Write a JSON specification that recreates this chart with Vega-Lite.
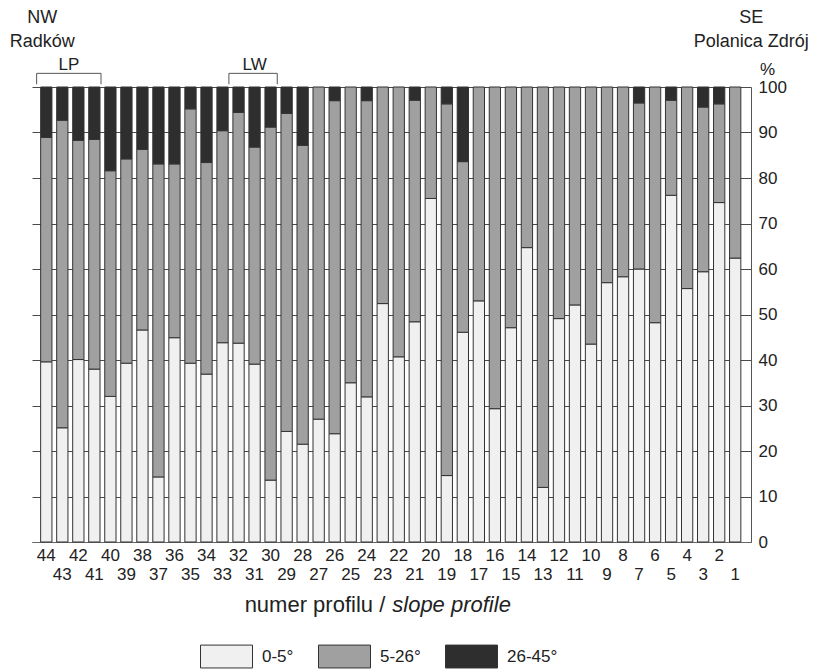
{
  "$schema": "https://vega.github.io/schema/vega-lite/v6.json",
  "width": 719,
  "height": 455,
  "autosize": {"type": "none"},
  "padding": {"left": 32, "top": 87, "right": 68, "bottom": 130},
  "background": "white",
  "config": {
    "font": "Liberation Sans",
    "view": {"stroke": null},
    "text": {"color": "#222"}
  },
  "datasets": {
    "profiles": [
      {"profil": 44, "klasa": "0-5°", "udzial": 39.6}, {"profil": 44, "klasa": "5-26°", "udzial": 49.3}, {"profil": 44, "klasa": "26-45°", "udzial": 11.1},
      {"profil": 43, "klasa": "0-5°", "udzial": 25.1}, {"profil": 43, "klasa": "5-26°", "udzial": 67.6}, {"profil": 43, "klasa": "26-45°", "udzial": 7.3},
      {"profil": 42, "klasa": "0-5°", "udzial": 40.1}, {"profil": 42, "klasa": "5-26°", "udzial": 48.2}, {"profil": 42, "klasa": "26-45°", "udzial": 11.7},
      {"profil": 41, "klasa": "0-5°", "udzial": 38.0}, {"profil": 41, "klasa": "5-26°", "udzial": 50.5}, {"profil": 41, "klasa": "26-45°", "udzial": 11.5},
      {"profil": 40, "klasa": "0-5°", "udzial": 32.0}, {"profil": 40, "klasa": "5-26°", "udzial": 49.6}, {"profil": 40, "klasa": "26-45°", "udzial": 18.4},
      {"profil": 39, "klasa": "0-5°", "udzial": 39.3}, {"profil": 39, "klasa": "5-26°", "udzial": 44.9}, {"profil": 39, "klasa": "26-45°", "udzial": 15.8},
      {"profil": 38, "klasa": "0-5°", "udzial": 46.6}, {"profil": 38, "klasa": "5-26°", "udzial": 39.7}, {"profil": 38, "klasa": "26-45°", "udzial": 13.7},
      {"profil": 37, "klasa": "0-5°", "udzial": 14.3}, {"profil": 37, "klasa": "5-26°", "udzial": 68.8}, {"profil": 37, "klasa": "26-45°", "udzial": 16.9},
      {"profil": 36, "klasa": "0-5°", "udzial": 44.9}, {"profil": 36, "klasa": "5-26°", "udzial": 38.2}, {"profil": 36, "klasa": "26-45°", "udzial": 16.9},
      {"profil": 35, "klasa": "0-5°", "udzial": 39.3}, {"profil": 35, "klasa": "5-26°", "udzial": 55.9}, {"profil": 35, "klasa": "26-45°", "udzial": 4.8},
      {"profil": 34, "klasa": "0-5°", "udzial": 36.9}, {"profil": 34, "klasa": "5-26°", "udzial": 46.5}, {"profil": 34, "klasa": "26-45°", "udzial": 16.6},
      {"profil": 33, "klasa": "0-5°", "udzial": 43.8}, {"profil": 33, "klasa": "5-26°", "udzial": 46.6}, {"profil": 33, "klasa": "26-45°", "udzial": 9.6},
      {"profil": 32, "klasa": "0-5°", "udzial": 43.7}, {"profil": 32, "klasa": "5-26°", "udzial": 50.7}, {"profil": 32, "klasa": "26-45°", "udzial": 5.6},
      {"profil": 31, "klasa": "0-5°", "udzial": 39.1}, {"profil": 31, "klasa": "5-26°", "udzial": 47.7}, {"profil": 31, "klasa": "26-45°", "udzial": 13.2},
      {"profil": 30, "klasa": "0-5°", "udzial": 13.6}, {"profil": 30, "klasa": "5-26°", "udzial": 77.6}, {"profil": 30, "klasa": "26-45°", "udzial": 8.8},
      {"profil": 29, "klasa": "0-5°", "udzial": 24.3}, {"profil": 29, "klasa": "5-26°", "udzial": 69.9}, {"profil": 29, "klasa": "26-45°", "udzial": 5.8},
      {"profil": 28, "klasa": "0-5°", "udzial": 21.5}, {"profil": 28, "klasa": "5-26°", "udzial": 65.7}, {"profil": 28, "klasa": "26-45°", "udzial": 12.8},
      {"profil": 27, "klasa": "0-5°", "udzial": 27.0}, {"profil": 27, "klasa": "5-26°", "udzial": 73.0},
      {"profil": 26, "klasa": "0-5°", "udzial": 23.8}, {"profil": 26, "klasa": "5-26°", "udzial": 73.2}, {"profil": 26, "klasa": "26-45°", "udzial": 3.0},
      {"profil": 25, "klasa": "0-5°", "udzial": 35.0}, {"profil": 25, "klasa": "5-26°", "udzial": 65.0},
      {"profil": 24, "klasa": "0-5°", "udzial": 31.9}, {"profil": 24, "klasa": "5-26°", "udzial": 65.1}, {"profil": 24, "klasa": "26-45°", "udzial": 3.0},
      {"profil": 23, "klasa": "0-5°", "udzial": 52.4}, {"profil": 23, "klasa": "5-26°", "udzial": 47.6},
      {"profil": 22, "klasa": "0-5°", "udzial": 40.7}, {"profil": 22, "klasa": "5-26°", "udzial": 59.3},
      {"profil": 21, "klasa": "0-5°", "udzial": 48.4}, {"profil": 21, "klasa": "5-26°", "udzial": 48.7}, {"profil": 21, "klasa": "26-45°", "udzial": 2.9},
      {"profil": 20, "klasa": "0-5°", "udzial": 75.5}, {"profil": 20, "klasa": "5-26°", "udzial": 24.5},
      {"profil": 19, "klasa": "0-5°", "udzial": 14.6}, {"profil": 19, "klasa": "5-26°", "udzial": 81.7}, {"profil": 19, "klasa": "26-45°", "udzial": 3.7},
      {"profil": 18, "klasa": "0-5°", "udzial": 46.1}, {"profil": 18, "klasa": "5-26°", "udzial": 37.5}, {"profil": 18, "klasa": "26-45°", "udzial": 16.4},
      {"profil": 17, "klasa": "0-5°", "udzial": 53.0}, {"profil": 17, "klasa": "5-26°", "udzial": 47.0},
      {"profil": 16, "klasa": "0-5°", "udzial": 29.3}, {"profil": 16, "klasa": "5-26°", "udzial": 70.7},
      {"profil": 15, "klasa": "0-5°", "udzial": 47.1}, {"profil": 15, "klasa": "5-26°", "udzial": 52.9},
      {"profil": 14, "klasa": "0-5°", "udzial": 64.7}, {"profil": 14, "klasa": "5-26°", "udzial": 35.3},
      {"profil": 13, "klasa": "0-5°", "udzial": 12.0}, {"profil": 13, "klasa": "5-26°", "udzial": 88.0},
      {"profil": 12, "klasa": "0-5°", "udzial": 49.1}, {"profil": 12, "klasa": "5-26°", "udzial": 50.9},
      {"profil": 11, "klasa": "0-5°", "udzial": 52.1}, {"profil": 11, "klasa": "5-26°", "udzial": 47.9},
      {"profil": 10, "klasa": "0-5°", "udzial": 43.5}, {"profil": 10, "klasa": "5-26°", "udzial": 56.5},
      {"profil": 9, "klasa": "0-5°", "udzial": 57.0}, {"profil": 9, "klasa": "5-26°", "udzial": 43.0},
      {"profil": 8, "klasa": "0-5°", "udzial": 58.3}, {"profil": 8, "klasa": "5-26°", "udzial": 41.7},
      {"profil": 7, "klasa": "0-5°", "udzial": 60.0}, {"profil": 7, "klasa": "5-26°", "udzial": 36.5}, {"profil": 7, "klasa": "26-45°", "udzial": 3.5},
      {"profil": 6, "klasa": "0-5°", "udzial": 48.2}, {"profil": 6, "klasa": "5-26°", "udzial": 51.8},
      {"profil": 5, "klasa": "0-5°", "udzial": 76.2}, {"profil": 5, "klasa": "5-26°", "udzial": 20.9}, {"profil": 5, "klasa": "26-45°", "udzial": 2.9},
      {"profil": 4, "klasa": "0-5°", "udzial": 55.7}, {"profil": 4, "klasa": "5-26°", "udzial": 44.3},
      {"profil": 3, "klasa": "0-5°", "udzial": 59.4}, {"profil": 3, "klasa": "5-26°", "udzial": 36.2}, {"profil": 3, "klasa": "26-45°", "udzial": 4.4},
      {"profil": 2, "klasa": "0-5°", "udzial": 74.6}, {"profil": 2, "klasa": "5-26°", "udzial": 21.7}, {"profil": 2, "klasa": "26-45°", "udzial": 3.7},
      {"profil": 1, "klasa": "0-5°", "udzial": 62.4}, {"profil": 1, "klasa": "5-26°", "udzial": 37.6}
    ],
    "brackets": [
      {"odcinek": "LP", "od": 44, "do": 41},
      {"odcinek": "LW", "od": 32, "do": 30}
    ]
  },
  "layer": [
    {
      "data": {"name": "profiles"},
      "transform": [
        {"calculate": "indexof(['0-5°', '5-26°', '26-45°'], datum.klasa)", "as": "kolejnosc"}
      ],
      "mark": {"type": "bar", "stroke": "#333", "strokeWidth": 1},
      "encoding": {
        "x": {
          "field": "profil",
          "type": "ordinal",
          "title": null,
          "scale": {
            "domain": [44, 43, 42, 41, 40, 39, 38, 37, 36, 35, 34, 33, 32, 31, 30, 29, 28, 27, 26, 25, 24, 23, 22, 21, 20, 19, 18, 17, 16, 15, 14, 13, 12, 11, 10, 9, 8, 7, 6, 5, 4, 3, 2, 1],
            "paddingInner": 0.295,
            "paddingOuter": 0.587,
            "align": 0.46
          },
          "axis": {
            "orient": "bottom",
            "title": null,
            "domain": true,
            "domainColor": "#666",
            "domainWidth": 1,
            "ticks": false,
            "grid": false,
            "labelAngle": 0,
            "labelFontSize": 17,
            "labelColor": "#222",
            "labelPadding": 5,
            "labelBaseline": "top",
            "labelLineHeight": 19.5,
            "labelOverlap": false,
            "labelExpr": "datum.value % 2 == 1 ? ['', datum.label] : datum.label"
          }
        },
        "y": {
          "field": "udzial",
          "type": "quantitative",
          "stack": "zero",
          "title": "%",
          "scale": {"domain": [0, 100], "nice": false},
          "axis": {
            "orient": "right",
            "values": [0, 10, 20, 30, 40, 50, 60, 70, 80, 90, 100],
            "grid": true,
            "gridColor": "#4a4a4a",
            "gridWidth": 1,
            "domain": true,
            "domainColor": "#555",
            "ticks": false,
            "labelPadding": 7,
            "labelFontSize": 17,
            "labelColor": "#222",
            "title": "%",
            "titleAngle": 0,
            "titleX": 16,
            "titleY": -18,
            "titleAlign": "center",
            "titleBaseline": "middle",
            "titleFontSize": 17,
            "titleFontWeight": "normal",
            "titleColor": "#222"
          }
        },
        "color": {
          "field": "klasa",
          "type": "nominal",
          "scale": {
            "domain": ["0-5°", "5-26°", "26-45°"],
            "range": ["#f0f0f0", "#a0a0a0", "#2e2e2e"]
          },
          "legend": {
            "orient": "none",
            "legendX": 168,
            "legendY": 543,
            "direction": "horizontal",
            "columns": 3,
            "title": null,
            "padding": 0,
            "symbolType": "M-1,-0.44H1V0.44H-1Z",
            "symbolSize": 2704,
            "symbolStrokeColor": "#333",
            "symbolStrokeWidth": 1,
            "symbolOpacity": 1,
            "labelFontSize": 17,
            "labelColor": "#222",
            "labelOffset": 9,
            "columnPadding": 22
          }
        },
        "order": {"field": "kolejnosc", "type": "quantitative"}
      }
    },
    {
      "data": {"name": "brackets"},
      "mark": {"type": "rule", "color": "#555", "strokeWidth": 1, "xOffset": -4, "x2Offset": 1},
      "encoding": {
        "x": {"field": "od", "type": "ordinal", "bandPosition": 0, "title": null},
        "x2": {"field": "do", "bandPosition": 1},
        "y": {"datum": 103, "type": "quantitative"}
      }
    },
    {
      "data": {"name": "brackets"},
      "mark": {"type": "rule", "color": "#555", "strokeWidth": 1, "xOffset": -4},
      "encoding": {
        "x": {"field": "od", "type": "ordinal", "bandPosition": 0, "title": null},
        "y": {"datum": 103, "type": "quantitative"},
        "y2": {"datum": 100.6}
      }
    },
    {
      "data": {"name": "brackets"},
      "mark": {"type": "rule", "color": "#555", "strokeWidth": 1, "xOffset": 1},
      "encoding": {
        "x": {"field": "do", "type": "ordinal", "bandPosition": 1, "title": null},
        "y": {"datum": 103, "type": "quantitative"},
        "y2": {"datum": 100.6}
      }
    },
    {
      "data": {"values": [{}]},
      "mark": {"type": "text", "align": "center", "baseline": "middle", "fontSize": 17, "dx": 6.5, "dy": -22},
      "encoding": {
        "x": {"datum": 43, "type": "ordinal"},
        "y": {"datum": 100, "type": "quantitative"},
        "text": {"value": "LP"}
      }
    },
    {
      "data": {"values": [{}]},
      "mark": {"type": "text", "align": "center", "baseline": "middle", "fontSize": 17, "dx": 0, "dy": -22},
      "encoding": {
        "x": {"datum": 31, "type": "ordinal"},
        "y": {"datum": 100, "type": "quantitative"},
        "text": {"value": "LW"}
      }
    },
    {
      "data": {"values": [{}]},
      "mark": {"type": "text", "align": "center", "baseline": "middle", "fontSize": 18, "lineHeight": 24, "dx": -4, "dy": -69},
      "encoding": {
        "x": {"datum": 44, "type": "ordinal"},
        "y": {"datum": 100, "type": "quantitative"},
        "text": {"value": ["NW", "Radków"]}
      }
    },
    {
      "data": {"values": [{}]},
      "mark": {"type": "text", "align": "center", "baseline": "middle", "fontSize": 18, "lineHeight": 24, "dx": 16, "dy": -69},
      "encoding": {
        "x": {"datum": 1, "type": "ordinal"},
        "y": {"datum": 100, "type": "quantitative"},
        "text": {"value": ["SE", "Polanica Zdrój"]}
      }
    },
    {
      "data": {"values": [{}]},
      "mark": {"type": "text", "align": "right", "baseline": "middle", "fontSize": 22, "dx": -13.5, "dy": 63},
      "encoding": {
        "x": {"datum": 22, "type": "ordinal"},
        "y": {"datum": 0, "type": "quantitative"},
        "text": {"value": "numer profilu /"}
      }
    },
    {
      "data": {"values": [{}]},
      "mark": {"type": "text", "align": "left", "baseline": "middle", "fontSize": 22, "fontStyle": "italic", "dx": -6.5, "dy": 63},
      "encoding": {
        "x": {"datum": 22, "type": "ordinal"},
        "y": {"datum": 0, "type": "quantitative"},
        "text": {"value": "slope profile"}
      }
    }
  ]
}
